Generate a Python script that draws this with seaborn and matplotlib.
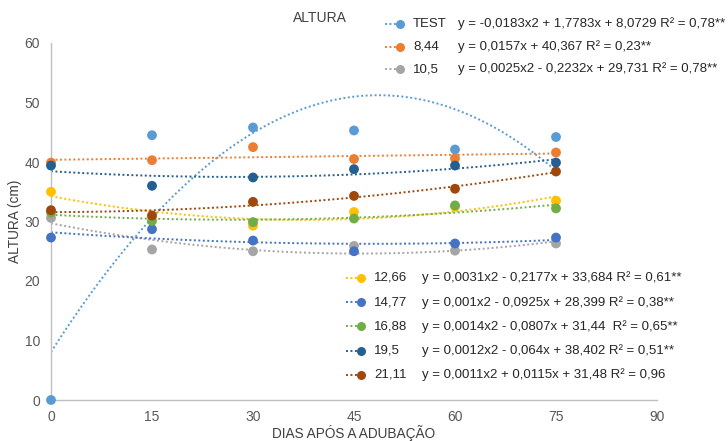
import numpy as np
import pandas as pd
import seaborn as sns
import matplotlib.pyplot as plt
from matplotlib.lines import Line2D

# dias apos a adubacao
dias = [0, 15, 30, 45, 60, 75]

# altura (cm) por dose
test = [0.0, 44.5, 45.8, 45.3, 42.1, 44.2]
d844 = [39.9, 40.3, 42.5, 40.5, 40.6, 41.6]
d105 = [30.6, 25.3, 25.0, 25.9, 25.1, 26.3]
d1266 = [35.0, 30.8, 29.3, 31.6, 32.5, 33.5]
d1477 = [27.3, 28.7, 26.8, 25.0, 26.3, 27.3]
d1688 = [31.5, 30.1, 29.9, 30.5, 32.7, 32.2]
d195 = [39.4, 36.0, 37.4, 38.8, 39.4, 39.9]
d2111 = [31.9, 31.0, 33.3, 34.3, 35.5, 38.4]

series = ['TEST', '8,44', '10,5', '12,66', '14,77', '16,88', '19,5', '21,11']
valores = [test, d844, d105, d1266, d1477, d1688, d195, d2111]
ordem = [2, 1, 2, 2, 2, 2, 2, 2]  # grau da linha de tendencia
cores = ['#5B9BD5', '#ED7D31', '#A5A5A5', '#FFC000',
         '#4472C4', '#70AD47', '#255E91', '#9E480E']
equacoes = [
    'y = -0,0183x2 + 1,7783x + 8,0729 R² = 0,78**',
    'y = 0,0157x + 40,367 R² = 0,23**',
    'y = 0,0025x2 - 0,2232x + 29,731 R² = 0,78**',
    'y = 0,0031x2 - 0,2177x + 33,684 R² = 0,61**',
    'y = 0,001x2 - 0,0925x + 28,399 R² = 0,38**',
    'y = 0,0014x2 - 0,0807x + 31,44  R² = 0,65**',
    'y = 0,0012x2 - 0,064x + 38,402 R² = 0,51**',
    'y = 0,0011x2 + 0,0115x + 31,48 R² = 0,96',
]

df = pd.DataFrame({
    'dias': dias * len(series),
    'altura': sum(valores, []),
    'dose': np.repeat(series, len(dias)),
})

sns.set_style('white')
plt.rcParams['font.family'] = ['Liberation Sans', 'DejaVu Sans']

fig = plt.figure(figsize=(7.28, 4.41), dpi=100)
ax = fig.add_axes([51 / 728, 41 / 441, 606 / 728, 357 / 441])

# linhas de tendencia
for nome, cor, grau in zip(series, cores, ordem):
    sub = df[df['dose'] == nome]
    sns.regplot(data=sub, x='dias', y='altura', order=grau, ci=None,
                scatter=False, ax=ax, truncate=True,
                line_kws={'color': cor, 'lw': 1.4, 'ls': (0, (1, 1.3))})

# pontos
sns.scatterplot(data=df, x='dias', y='altura', hue='dose', palette=cores,
                s=50, edgecolor='none', legend=False, ax=ax, clip_on=False, zorder=3)

ax.set_xlim(0, 90)
ax.set_ylim(0, 60)
ax.set_xticks(range(0, 91, 15))
ax.set_yticks(range(0, 61, 10))
ax.tick_params(length=4, width=1, color='#BFBFBF', labelsize=10,
               labelcolor='#595959', pad=4, direction='out')
ax.tick_params(axis='x', pad=3)
for s in ['top', 'right']:
    ax.spines[s].set_visible(False)
for s in ['left', 'bottom']:
    ax.spines[s].set_color('#BFBFBF')
    ax.spines[s].set_linewidth(1)
ax.set_xlabel('DIAS APÓS A ADUBAÇÃO', fontsize=9.8, color='#404040', va='center')
ax.set_ylabel('ALTURA (cm)', fontsize=9.8, color='#404040', va='center')
ax.xaxis.set_label_coords(0.5, (8 - 41) / 357)
ax.yaxis.set_label_coords((15 - 51) / 606, 0.5)
fig.text(320 / 728, 1 - 18 / 441, 'ALTURA', ha='center', va='center',
         fontsize=10, color='#404040')

# legendas com equacoes
def linha_legenda(i, y, xl, xn, xe):
    yf = 1 - y / 441
    fig.add_artist(Line2D([xl / 728, (xl + 11) / 728], [yf, yf], transform=fig.transFigure,
                          color=cores[i], lw=1.4, ls=(0, (1, 1.3))))
    fig.add_artist(Line2D([(xl + 15) / 728], [yf], transform=fig.transFigure,
                          color=cores[i], marker='o', ms=6.5, mec='none', ls='none'))
    fig.text(xn / 728, yf, series[i], va='center', fontsize=9.5, color='#262626')
    fig.text(xe / 728, yf, equacoes[i], va='center', fontsize=9.5, color='#262626')

for k in range(3):
    linha_legenda(k, 24 + 22.5 * k, 385, 413, 458)
for k in range(5):
    linha_legenda(3 + k, 278 + 24.2 * k, 346, 374, 422)

fig.savefig('out.png', dpi=100)
